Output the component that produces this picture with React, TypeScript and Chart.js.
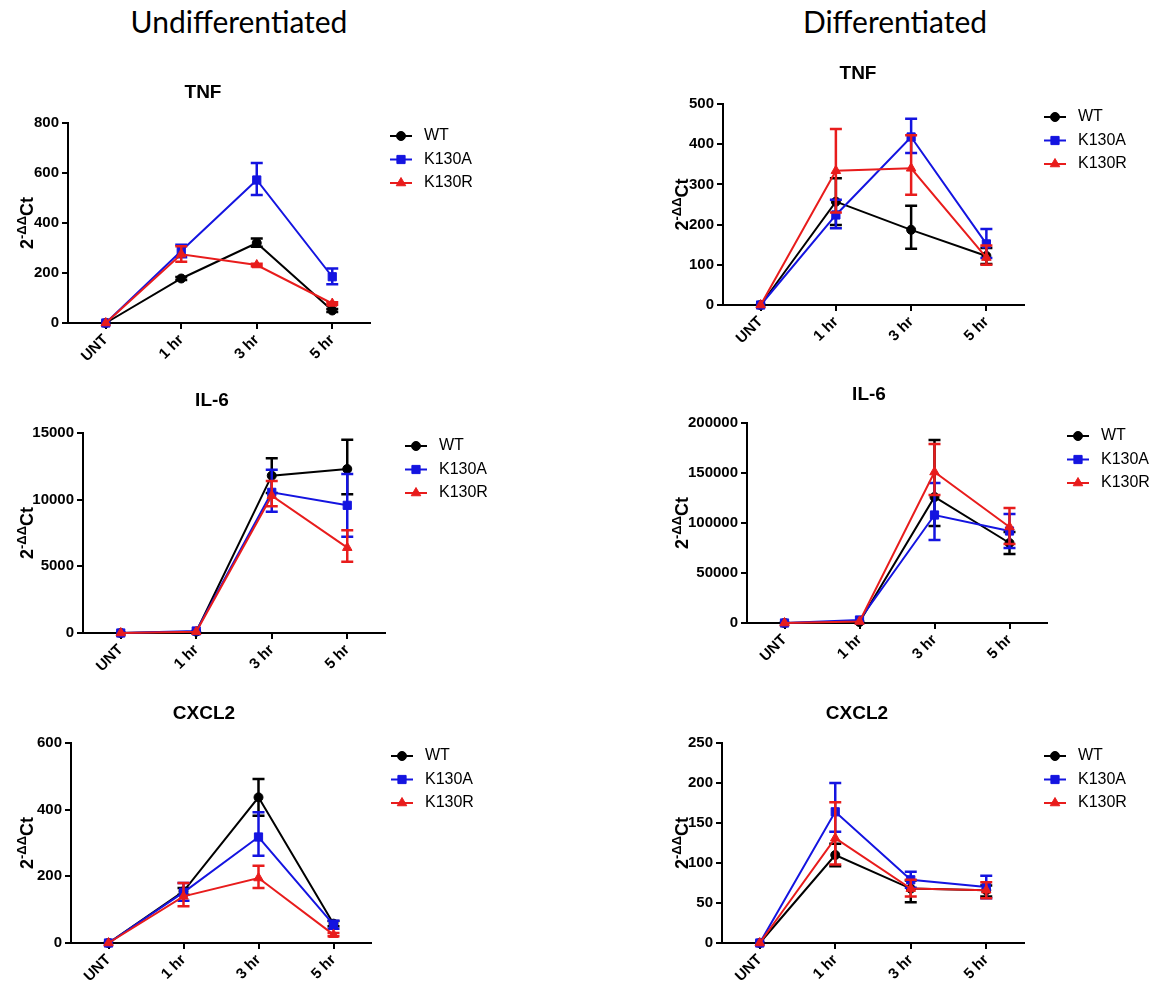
import React, { useEffect, useRef } from 'react';
import { Chart, registerables } from 'chart.js';
import { drawPoint } from 'chart.js/helpers';

Chart.register(...registerables);

// ---------- data ----------
const CATEGORIES = ['UNT', '1 hr', '3 hr', '5 hr'];
const SERIES = ['WT', 'K130A', 'K130R'];

// Undifferentiated – TNF
const U_TNF_Y_TICKS = [0, 200, 400, 600, 800];
const U_TNF_MEAN = [[0, 178, 320, 50], [0, 288, 572, 185], [0, 275, 232, 78]];
const U_TNF_UP = [[0, 6, 18, 6], [0, 25, 68, 33], [0, 32, 5, 5]];
const U_TNF_DOWN = [[0, 6, 15, 6], [0, 25, 60, 30], [0, 30, 5, 5]];

// Differentiated – TNF
const D_TNF_Y_TICKS = [0, 100, 200, 300, 400, 500];
const D_TNF_MEAN = [[0, 257, 187, 122], [0, 224, 418, 152], [0, 334, 340, 118]];
const D_TNF_UP = [[0, 58, 60, 20], [0, 38, 45, 37], [0, 104, 82, 30]];
const D_TNF_DOWN = [[0, 58, 47, 20], [0, 33, 40, 35], [0, 104, 66, 18]];

// Undifferentiated – IL-6
const U_IL6_Y_TICKS = [0, 5000, 10000, 15000];
const U_IL6_MEAN = [[0, 100, 11800, 12300], [0, 150, 10550, 9575], [0, 100, 10300, 6400]];
const U_IL6_UP = [[0, 0, 1300, 2200], [0, 0, 1700, 2350], [0, 0, 1100, 1300]];
const U_IL6_DOWN = [[0, 0, 1300, 1900], [0, 0, 1450, 2350], [0, 0, 800, 1050]];

// Differentiated – IL-6
const D_IL6_Y_TICKS = [0, 50000, 100000, 150000, 200000];
const D_IL6_MEAN = [[0, 1000, 126000, 80000], [0, 3000, 108000, 92000], [0, 1500, 151000, 96000]];
const D_IL6_UP = [[0, 0, 57000, 11000], [0, 0, 32000, 17000], [0, 0, 28000, 19000]];
const D_IL6_DOWN = [[0, 0, 29000, 11000], [0, 0, 25000, 17000], [0, 0, 23000, 17000]];

// Undifferentiated – CXCL2
const U_CXCL2_Y_TICKS = [0, 200, 400, 600];
const U_CXCL2_MEAN = [[0, 155, 437, 58], [0, 152, 318, 55], [0, 140, 195, 25]];
const U_CXCL2_UP = [[0, 10, 55, 8], [0, 28, 74, 12], [0, 40, 37, 5]];
const U_CXCL2_DOWN = [[0, 10, 55, 8], [0, 25, 56, 12], [0, 30, 30, 5]];

// Differentiated – CXCL2
const D_CXCL2_Y_TICKS = [0, 50, 100, 150, 200, 250];
const D_CXCL2_MEAN = [[0, 110, 68, 66], [0, 164, 79, 70], [0, 131, 68, 66]];
const D_CXCL2_UP = [[0, 14, 10, 6], [0, 36, 10, 14], [0, 45, 11, 10]];
const D_CXCL2_DOWN = [[0, 14, 17, 8], [0, 25, 10, 14], [0, 33, 10, 10]];

// ---------- style ----------
const FONT = '"Liberation Sans", Arial, Helvetica, sans-serif';
const COLORS = ['#000000', '#1414e0', '#e81c1c'];
const POINT_STYLES = ['circle', 'rect', 'triangle'];
const POINT_RADII = [4.5, 5.8, 5.5];
const Y_AXIS_W = 60;
const X_AXIS_H = 40;
const CAP = 6;

type Rect = { x: number; y: number; w: number; h: number };
type Plot = { l: number; r: number; t: number; b: number };

const PANELS = [
  { title: 'TNF', mean: U_TNF_MEAN, up: U_TNF_UP, down: U_TNF_DOWN, yTicks: U_TNF_Y_TICKS,
    canvas: { x: 0, y: 50, w: 560, h: 325 }, plot: { l: 68, r: 370, t: 123, b: 323 }, titleX: 203, titleY: 93, yTitleX: 33 },
  { title: 'TNF', mean: D_TNF_MEAN, up: D_TNF_UP, down: D_TNF_DOWN, yTicks: D_TNF_Y_TICKS,
    canvas: { x: 640, y: 50, w: 528, h: 325 }, plot: { l: 723, r: 1024, t: 104, b: 305 }, titleX: 858, titleY: 74, yTitleX: 688 },
  { title: 'IL-6', mean: U_IL6_MEAN, up: U_IL6_UP, down: U_IL6_DOWN, yTicks: U_IL6_Y_TICKS,
    canvas: { x: 0, y: 375, w: 560, h: 315 }, plot: { l: 83, r: 385, t: 433, b: 633 }, titleX: 212, titleY: 401, yTitleX: 33 },
  { title: 'IL-6', mean: D_IL6_MEAN, up: D_IL6_UP, down: D_IL6_DOWN, yTicks: D_IL6_Y_TICKS,
    canvas: { x: 640, y: 375, w: 528, h: 315 }, plot: { l: 747, r: 1047, t: 423, b: 623 }, titleX: 869, titleY: 395, yTitleX: 688 },
  { title: 'CXCL2', mean: U_CXCL2_MEAN, up: U_CXCL2_UP, down: U_CXCL2_DOWN, yTicks: U_CXCL2_Y_TICKS,
    canvas: { x: 0, y: 690, w: 560, h: 297 }, plot: { l: 71, r: 371, t: 743, b: 943 }, titleX: 204, titleY: 714, yTitleX: 33 },
  { title: 'CXCL2', mean: D_CXCL2_MEAN, up: D_CXCL2_UP, down: D_CXCL2_DOWN, yTicks: D_CXCL2_Y_TICKS,
    canvas: { x: 640, y: 690, w: 528, h: 297 }, plot: { l: 722, r: 1024, t: 743, b: 943 }, titleX: 857, titleY: 714, yTitleX: 688 },
];

// ---------- plugins ----------
const errorBarPlugin = {
  id: 'errorBars',
  beforeDatasetDraw(chart: any, args: any) {
    const ds = chart.data.datasets[args.index];
    const ys = chart.scales.y;
    const ctx = chart.ctx;
    ctx.save();
    ctx.strokeStyle = ds.borderColor;
    ctx.lineWidth = 2.5;
    args.meta.data.forEach((pt: any, j: number) => {
      const v = ds.data[j];
      const up = ds.errUp[j];
      const dn = ds.errDown[j];
      if (!up && !dn) return;
      const x = pt.x;
      const yTop = ys.getPixelForValue(v + up);
      const yBot = ys.getPixelForValue(v - dn);
      ctx.beginPath();
      ctx.moveTo(x, yTop);
      ctx.lineTo(x, yBot);
      ctx.moveTo(x - CAP, yTop);
      ctx.lineTo(x + CAP, yTop);
      ctx.moveTo(x - CAP, yBot);
      ctx.lineTo(x + CAP, yBot);
      ctx.stroke();
    });
    ctx.restore();
  },
};

const panelTextPlugin = {
  id: 'panelText',
  afterDraw(chart: any) {
    const o = chart.options.plugins.panelText;
    const ctx = chart.ctx;
    const ca = chart.chartArea;
    ctx.save();
    ctx.fillStyle = '#000';
    // panel title
    ctx.font = `bold 19px ${FONT}`;
    ctx.textAlign = 'center';
    ctx.textBaseline = 'middle';
    ctx.fillText(o.title, o.titleX, o.titleY);
    // y axis title 2^-ΔΔCt
    ctx.translate(o.yTitleX, (ca.top + ca.bottom) / 2);
    ctx.rotate(-Math.PI / 2);
    ctx.textAlign = 'left';
    ctx.textBaseline = 'alphabetic';
    const mainFont = `bold 18px ${FONT}`;
    const supFont = `bold 13px ${FONT}`;
    ctx.font = mainFont;
    const w2 = ctx.measureText('2').width;
    const wCt = ctx.measureText('Ct').width;
    ctx.font = supFont;
    const wSup = ctx.measureText('-ΔΔ').width;
    let x = -(w2 + wSup + wCt) / 2;
    ctx.font = mainFont;
    ctx.fillText('2', x, 0);
    x += w2;
    ctx.font = supFont;
    ctx.fillText('-ΔΔ', x, -7);
    x += wSup;
    ctx.font = mainFont;
    ctx.fillText('Ct', x, 0);
    ctx.restore();

    // legend
    ctx.save();
    chart.data.datasets.forEach((ds: any, i: number) => {
      const y = ca.top + 13 + i * 23.5;
      const cx = ca.right + 31;
      ctx.strokeStyle = ds.borderColor;
      ctx.fillStyle = ds.borderColor;
      ctx.lineWidth = 2;
      ctx.beginPath();
      ctx.moveTo(cx - 11, y);
      ctx.lineTo(cx + 11, y);
      ctx.stroke();
      ctx.lineWidth = 1;
      drawPoint(ctx, { pointStyle: ds.pointStyle, radius: ds.pointRadius, rotation: 0, borderWidth: 1 }, cx, y);
      ctx.fillStyle = '#000';
      ctx.font = `16px ${FONT}`;
      ctx.textAlign = 'left';
      ctx.textBaseline = 'middle';
      ctx.fillText(ds.label, ca.right + 54, y);
    });
    ctx.restore();
  },
};

function Panel({ p }: { p: (typeof PANELS)[number] }) {
  const ref = useRef<HTMLCanvasElement>(null);
  useEffect(() => {
    if (!ref.current) return;
    const c: Rect = p.canvas;
    const pl: Plot = p.plot;
    const datasets = SERIES.map((name, i) => ({
      label: name,
      data: p.mean[i],
      errUp: p.up[i],
      errDown: p.down[i],
      borderColor: COLORS[i],
      backgroundColor: COLORS[i],
      pointBackgroundColor: COLORS[i],
      pointBorderColor: COLORS[i],
      pointStyle: POINT_STYLES[i],
      pointRadius: POINT_RADII[i],
      pointBorderWidth: 1,
      borderWidth: 2,
      tension: 0,
      clip: false,
      order: 3 - i,
    }));
    const tickFont = { family: FONT, size: 15, weight: 'bold' as const };
    const grid = { display: true, drawOnChartArea: false, drawTicks: true, tickLength: 6, color: '#000', lineWidth: 2 };
    const border = { display: true, color: '#000', width: 2 };
    const yTicks = p.yTicks;
    const chart = new Chart(ref.current, {
      type: 'line',
      data: { labels: CATEGORIES, datasets: datasets as any },
      plugins: [errorBarPlugin, panelTextPlugin],
      options: {
        responsive: false,
        maintainAspectRatio: false,
        animation: false,
        devicePixelRatio: 1,
        events: [],
        layout: {
          padding: {
            left: pl.l - c.x - Y_AXIS_W,
            right: c.x + c.w - pl.r,
            top: pl.t - c.y,
            bottom: c.y + c.h - pl.b - X_AXIS_H,
          },
        },
        scales: {
          x: {
            type: 'category',
            offset: true,
            grid,
            border,
            ticks: { color: '#000', font: tickFont, minRotation: 45, maxRotation: 45, autoSkip: false, padding: 2 },
            afterFit: (s: any) => { s.height = X_AXIS_H; },
          },
          y: {
            type: 'linear',
            min: yTicks[0],
            max: yTicks[yTicks.length - 1],
            grid,
            border,
            ticks: { color: '#000', font: tickFont, padding: 3, callback: (v: any) => String(v) },
            afterBuildTicks: (s: any) => { s.ticks = yTicks.map((value) => ({ value })); },
            afterFit: (s: any) => { s.width = Y_AXIS_W; },
          },
        },
        plugins: {
          legend: { display: false },
          tooltip: { enabled: false },
          title: { display: false },
          panelText: {
            title: p.title,
            titleX: p.titleX - c.x,
            titleY: p.titleY - c.y,
            yTitleX: p.yTitleX - c.x,
          },
        } as any,
      },
    });
    return () => chart.destroy();
  }, [p]);
  return (
    <canvas
      ref={ref}
      width={p.canvas.w}
      height={p.canvas.h}
      style={{ position: 'absolute', left: p.canvas.x, top: p.canvas.y, width: p.canvas.w, height: p.canvas.h }}
    />
  );
}

const headerStyle: React.CSSProperties = {
  position: 'absolute',
  top: 3,
  width: 400,
  textAlign: 'center',
  fontFamily: 'Lato, "Open Sans", sans-serif',
  fontSize: 30,
  lineHeight: 'normal',
  color: '#000',
};

export default function App() {
  return (
    <div style={{ position: 'absolute', left: 0, top: 0, width: 1168, height: 987, background: '#fff', overflow: 'hidden' }}>
      <div style={{ ...headerStyle, left: 239 - 200 }}>Undifferentiated</div>
      <div style={{ ...headerStyle, left: 895 - 200 }}>Differentiated</div>
      {PANELS.map((p, i) => (
        <Panel key={i} p={p} />
      ))}
    </div>
  );
}
